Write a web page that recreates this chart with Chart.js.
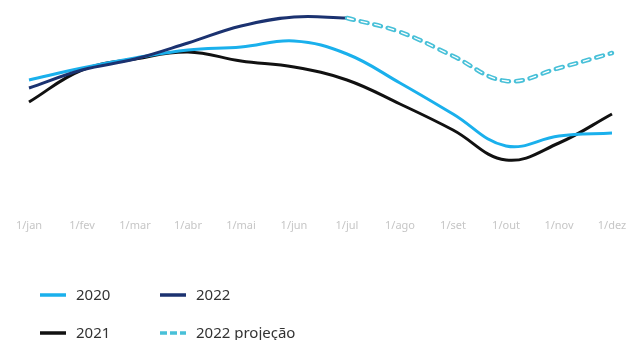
<!DOCTYPE html>
<html>
<head>
<meta charset="utf-8">
<script src="https://cdn.jsdelivr.net/npm/chart.js@4/dist/chart.umd.min.js"></script>
<style>
  html, body { margin: 0; padding: 0; background: #fff; }
  #wrap { width: 637px; height: 340px; }
</style>
</head>
<body>
<div id="wrap"><canvas id="lineChart"></canvas></div>
<script>
const months = ['1/jan', '1/fev', '1/mar', '1/abr', '1/mai', '1/jun', '1/jul', '1/ago', '1/set', '1/out', '1/nov', '1/dez'];

// index values (no axis shown)
const serie2020 = [120, 132, 142, 150, 153, 159, 146, 117, 86, 54, 64, 67];
const serie2021 = [98, 130, 141, 148, 139, 133, 120, 96, 70, 40, 57, 86];
const serie2022 = [112, 130, 141, 157, 174, 183, 182, null, null, null, null, null];
const projecao2022 = [null, null, null, null, null, null, 182, 168, 144, 119, 132, 147];

const cor2020 = '#1ab0ec';
const cor2021 = '#111111';
const cor2022 = '#1b3270';
const corProj = '#48c0d8';

// legend drawn by hand so it sits in a 2x2 grid like the original
const legendPlugin = {
  id: 'gridLegend',
  afterDraw(chart) {
    const ctx = chart.ctx;
    const items = chart.data.datasets.filter(d => d.legendPos);
    ctx.save();
    ctx.font = '15px "Noto Sans", "Open Sans", sans-serif';
    ctx.textBaseline = 'middle';
    items.forEach(d => {
      const [x, y] = d.legendPos;
      ctx.beginPath();
      ctx.strokeStyle = d.borderColor;
      ctx.lineWidth = 3.5;
      ctx.setLineDash(d.dashed ? [7, 3] : []);
      ctx.moveTo(x, y);
      ctx.lineTo(x + 26, y);
      ctx.stroke();
      ctx.setLineDash([]);
      ctx.fillStyle = '#333';
      ctx.fillText(d.label, x + 36, y + 1);
    });
    ctx.restore();
  }
};

new Chart(document.getElementById('lineChart'), {
  type: 'line',
  data: {
    labels: months,
    datasets: [
      {
        label: '2022 projeção',
        data: projecao2022,
        borderColor: corProj,
        borderWidth: 4.5,
        borderDash: [7, 7],
        borderCapStyle: 'round',
        legendPos: [160, 333],
        dashed: true,
        order: 2
      },
      {
        label: 'proj-inner',
        data: projecao2022,
        borderColor: '#ffffff',
        borderWidth: 1.3,
        borderDash: [7, 7],
        borderCapStyle: 'butt',
        order: 1
      },
      { label: '2022', data: serie2022, borderColor: cor2022, borderWidth: 3, legendPos: [160, 295], order: 3 },
      { label: '2020', data: serie2020, borderColor: cor2020, borderWidth: 3, legendPos: [40, 295], order: 4 },
      { label: '2021', data: serie2021, borderColor: cor2021, borderWidth: 3, legendPos: [40, 333], order: 5 }
    ]
  },
  options: {
    responsive: true,
    maintainAspectRatio: false,
    animation: false,
    clip: false,
    layout: { padding: { left: 29, right: 25, top: 0, bottom: 100 } },
    elements: {
      line: { tension: 0.4, fill: false },
      point: { radius: 0, hoverRadius: 0 }
    },
    plugins: {
      legend: { display: false },
      tooltip: { enabled: false }
    },
    scales: {
      x: {
        grid: { display: false, drawTicks: false },
        border: { display: false },
        ticks: {
          color: '#c6c6c6',
          font: { size: 11, family: '"Noto Sans", sans-serif' },
          padding: 19,
          maxRotation: 0,
          autoSkip: false
        },
        afterFit(scale) {
          scale.height = 40;
          scale.paddingLeft = 0;
          scale.paddingRight = 0;
        }
      },
      y: { display: false, min: 0, max: 200 }
    }
  },
  plugins: [legendPlugin]
});
</script>
</body>
</html>
